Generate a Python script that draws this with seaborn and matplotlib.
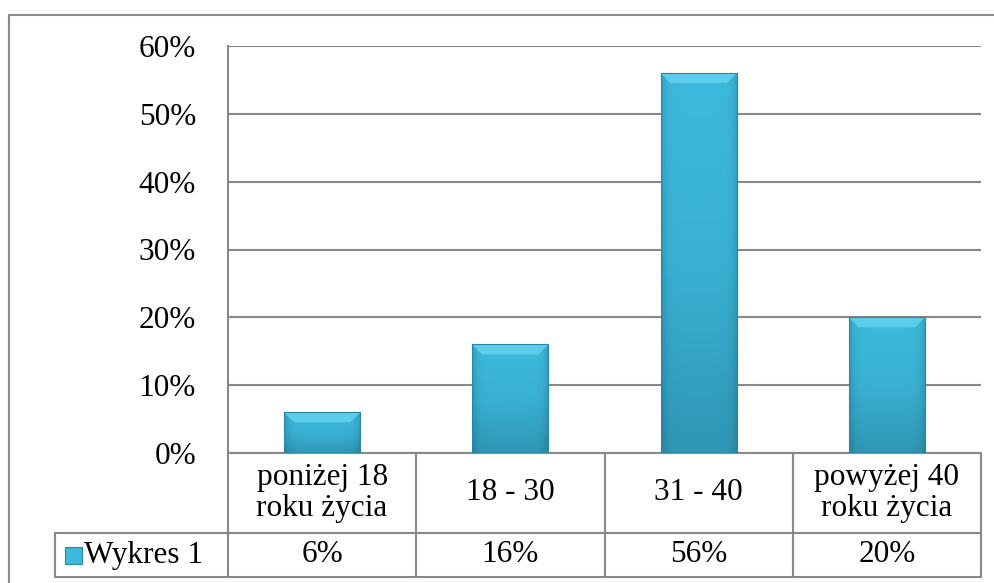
import numpy as np
import matplotlib
matplotlib.use("Agg")
import matplotlib.pyplot as plt
import matplotlib.transforms as mtransforms
from matplotlib.patches import Rectangle, Polygon
from matplotlib.colors import LinearSegmentedColormap
import seaborn as sns
import pandas as pd

# data
categories = ["poniżej 18\nroku życia", "18 - 30", "31 - 40", "powyżej 40\nroku życia"]
values = [6, 16, 56, 20]
value_labels = ["6%", "16%", "56%", "20%"]
series_name = "Wykres 1"
yticks = [0, 10, 20, 30, 40, 50, 60]

sns.set_theme(style="white")
plt.rcParams['font.family'] = ['Liberation Serif', 'DejaVu Serif']
plt.rcParams['text.color'] = 'black'
FS = 22.5

W, H = 995, 583
fig = plt.figure(figsize=(W / 100, H / 100), dpi=100)
ax = fig.add_axes([228 / W, 130 / H, 753 / W, 407 / H])

df = pd.DataFrame({"cat": categories, "val": values})
sns.barplot(data=df, x="cat", y="val", color="#3cb9dc", width=0.405,
            saturation=1, edgecolor="#2a86a3", linewidth=0.6, ax=ax, zorder=3)

ax.set_xlim(-0.5, len(categories) - 0.5)
ax.set_ylim(0, 60)
ax.set_yticks(yticks)
ax.set_yticklabels([f"{t}%" for t in yticks], fontsize=FS, color="black")
ax.tick_params(axis="y", length=0, pad=23)
ax.set_xticks([])
ax.set_xlabel("")
ax.set_ylabel("")
grid_c = "#888888"
ax.yaxis.grid(True, color=grid_c, linewidth=1.5, zorder=0)
for s in ax.spines.values():
    s.set_visible(False)
ax.spines["left"].set_visible(True)
ax.spines["left"].set_color(grid_c)
ax.spines["left"].set_linewidth(1.5)

# bar shading: soft vertical gradient, darker side edges, lighter bevel on top
cmap = LinearSegmentedColormap.from_list("bar", ["#2f96b4", "#39b1d4", "#3dbadd"])
grad = np.linspace(0, 1, 256).reshape(-1, 1)
edge = np.linspace(-1, 1, 64)
shade = 1 - 0.15 * np.abs(edge) ** 8
for p in ax.patches:
    x0, y0 = p.get_x(), p.get_y()
    w, h = p.get_width(), p.get_height()
    img = np.repeat(cmap(grad)[:, :, :3], 64, axis=1) * shade[None, :, None]
    im = ax.imshow(img, extent=[x0, x0 + w, y0, y0 + h], origin="lower",
                   aspect="auto", zorder=4)
    im.set_clip_path(p)
    bev_y = 10 * 60 / 407
    bev_x = w * 0.13
    ax.add_patch(Polygon([[x0, y0 + h], [x0 + w, y0 + h],
                          [x0 + w - bev_x, y0 + h - bev_y], [x0 + bev_x, y0 + h - bev_y]],
                         closed=True, facecolor="#5ccdea", edgecolor="none", zorder=5))
    ax.add_patch(Rectangle((x0, y0), w, h, facecolor="none",
                           edgecolor="#2a86a3", linewidth=0.8, zorder=6))

# data table below the axes
trans = mtransforms.blended_transform_factory(ax.transData, ax.transAxes)
r1 = -80 / 407
r2 = -124 / 407
n = len(categories)
xs = np.arange(n)
line_kw = dict(color=grid_c, linewidth=1.5, clip_on=False)
left_x = -0.5 - (228 - 55) / 753 * n
ax.plot([-0.5, n - 0.5], [0, 0], transform=trans, **line_kw)
ax.plot([left_x, n - 0.5], [r1, r1], transform=trans, **line_kw)
ax.plot([left_x, n - 0.5], [r2, r2], transform=trans, **line_kw)
ax.plot([left_x, left_x], [r1, r2], transform=trans, **line_kw)
for b in np.arange(-0.5, n, 1.0):
    ax.plot([b, b], [0, r2], transform=trans, **line_kw)

for x, c, v in zip(xs, categories, value_labels):
    ax.text(x, r1 / 2, c, transform=trans, ha="center", va="center",
            fontsize=FS, linespacing=1.12)
    ax.text(x, (r1 + r2) / 2, v, transform=trans, ha="center", va="center",
            fontsize=FS)

# legend key inside the first table row
key_w = 17 / 753 * n
key_x = left_x + 10 / 753 * n
ax.add_patch(Rectangle((key_x, (r1 + r2) / 2 - 8.5 / 407), key_w, 17 / 407,
                       transform=trans, facecolor="#3cb9dc", edgecolor="#2a86a3",
                       linewidth=0.8, clip_on=False))
ax.text(key_x + key_w + 2 / 753 * n, (r1 + r2) / 2, series_name,
        transform=trans, ha="left", va="center", fontsize=FS)

# outer chart border
fig.patches.append(Rectangle((9 / W, -0.1), 1.2, 1 - 15 / H + 0.1,
                             transform=fig.transFigure, facecolor="none",
                             edgecolor="#8a8a8a", linewidth=1.5))

fig.savefig("out.png", dpi=100)
